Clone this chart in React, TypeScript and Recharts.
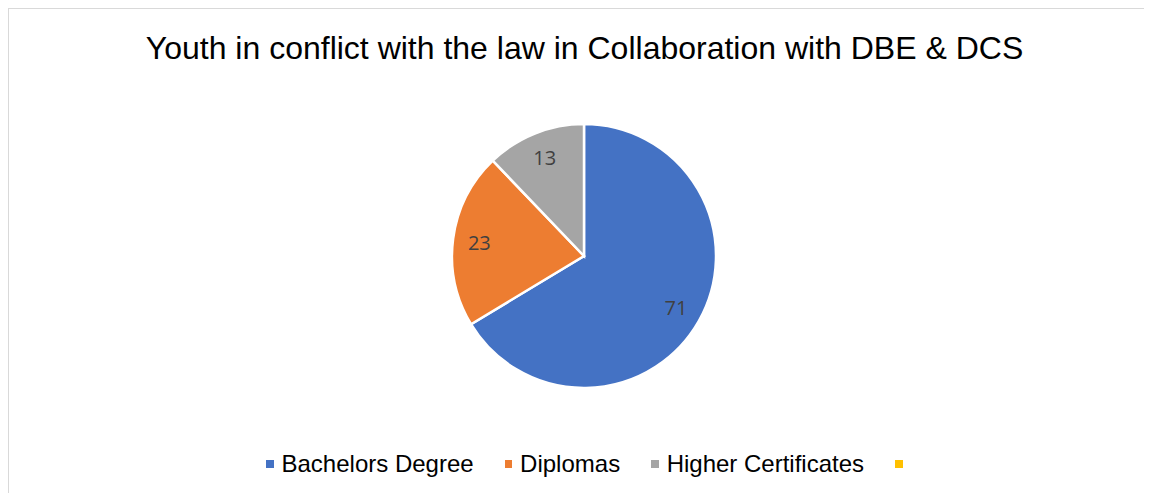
import React from 'react';
import { PieChart, Pie, Cell, Legend } from 'recharts';

const TITLE = 'Youth in conflict with the law in Collaboration with DBE & DCS';
const categories = ['Bachelors Degree', 'Diplomas', 'Higher Certificates', ''];
const values = [71, 23, 13, 0];
const colors = ['#4472C4', '#ED7D31', '#A5A5A5', '#FFC000'];

const data = categories.map((name, i) => ({ name, value: values[i] }));

const RADIAN = Math.PI / 180;

const renderLabel = (props: any) => {
  const { cx, cy, midAngle, outerRadius, value } = props;
  if (!value) return null;
  const r = outerRadius * 0.8;
  const x = cx + r * Math.cos(-midAngle * RADIAN);
  const y = cy + r * Math.sin(-midAngle * RADIAN);
  return (
    <text
      x={x}
      y={y}
      fill="#404040"
      textAnchor="middle"
      dominantBaseline="central"
      style={{ fontFamily: '"Open Sans", sans-serif', fontSize: 20 }}
    >
      {value}
    </text>
  );
};

const renderLegend = () => (
  <div style={{ display: 'flex', alignItems: 'center', fontFamily: '"Liberation Sans", Arial, sans-serif', fontSize: 24, lineHeight: '24px', color: '#000', whiteSpace: 'nowrap' }}>
    {categories.map((c, i) => (
      <div key={i} style={{ display: 'flex', alignItems: 'center', marginRight: i < categories.length - 1 ? 31 : 0 }}>
        <span style={{ display: 'inline-block', width: 7.5, height: 7.5, background: colors[i], marginRight: c ? 8 : 0 }} />
        {c ? <span>{c}</span> : null}
      </div>
    ))}
  </div>
);

export default function App() {
  return (
    <>
      <style>{'html, body { overflow: hidden; }'}</style>
      <div
        style={{
          position: 'relative',
          width: 1143,
          height: 484,
          borderLeft: '1px solid #d9d9d9',
          borderTop: '1px solid #d9d9d9',
          background: '#fff',
          overflow: 'hidden',
        }}
      >
        <div
          style={{
            position: 'absolute',
            left: 0,
            top: 23,
            width: 1151,
            textAlign: 'center',
            fontFamily: '"Liberation Sans", Arial, sans-serif',
            fontSize: 32,
            lineHeight: '32px',
            color: '#000',
            whiteSpace: 'nowrap',
          }}
        >
          {TITLE}
        </div>
        <PieChart
          width={1143}
          height={484}
          margin={{ top: 0, right: 0, bottom: 0, left: 0 }}
          style={{ position: 'absolute', left: 0, top: 0 }}
        >
          <Pie
            data={data}
            dataKey="value"
            nameKey="name"
            cx={575}
            cy={247}
            outerRadius={132}
            startAngle={90}
            endAngle={-270}
            stroke="#ffffff"
            strokeWidth={2.5}
            label={renderLabel}
            labelLine={false}
            isAnimationActive={false}
          >
            {data.map((d, i) => (
              <Cell key={i} fill={colors[i]} />
            ))}
          </Pie>
          <Legend
            content={renderLegend}
            wrapperStyle={{ position: 'absolute', left: 257, top: 443, width: 'auto', height: 24 }}
          />
        </PieChart>
      </div>
    </>
  );
}
